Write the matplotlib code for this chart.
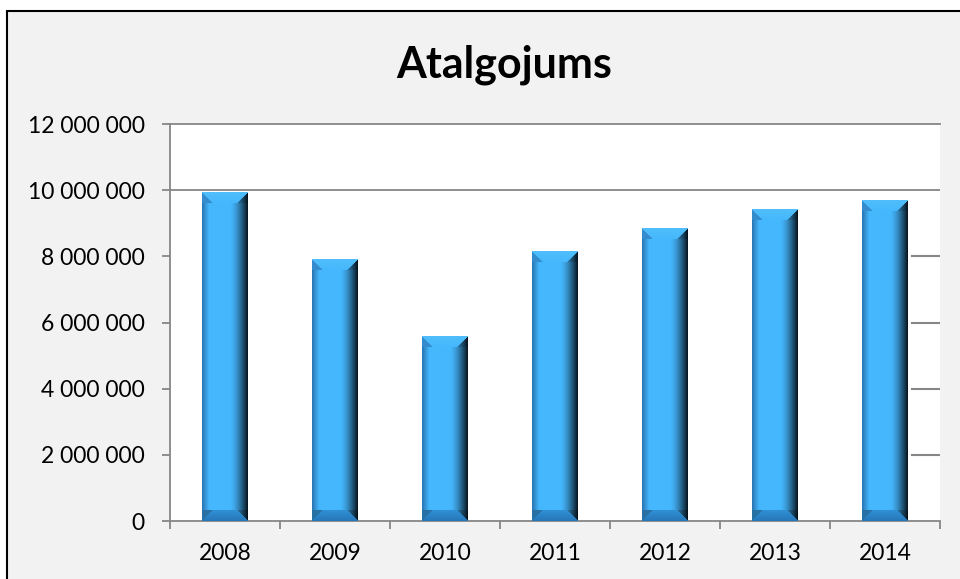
import numpy as np
import matplotlib
matplotlib.use('Agg')
import matplotlib.pyplot as plt
from matplotlib.patches import Rectangle

# data
years = ['2008', '2009', '2010', '2011', '2012', '2013', '2014']
values = [9940000, 7910000, 5590000, 8160000, 8850000, 9430000, 9690000]
y_ticks = [0, 2000000, 4000000, 6000000, 8000000, 10000000, 12000000]
title = 'Atalgojums'

plt.rcParams['font.family'] = ['Lato', 'DejaVu Sans']

grid_col = '#868686'
face = np.array([69, 183, 253]) / 255.0


def bevel_image(n_rows, n_cols=45, b=11):
    # horizontal shading of the bar body
    left = np.array([42, 120, 180]) / 255.0
    right = np.array([8, 24, 36]) / 255.0
    prof = np.zeros((n_cols, 3))
    for c in range(n_cols):
        t = c / (n_cols - 1)
        if t < 0.15:
            k = t / 0.15
            prof[c] = left * (1 - k) + face * k
        elif t > 0.62:
            k = ((t - 0.62) / 0.38) ** 1.5
            prof[c] = face * (1 - k) + right * k
        else:
            prof[c] = face
    img = np.tile(prof, (n_rows, 1, 1))
    top0 = np.array([80, 190, 250]) / 255.0
    bot0 = np.array([38, 120, 185]) / 255.0
    bot1 = np.array([50, 145, 215]) / 255.0
    lcorner = np.array([52, 140, 205]) / 255.0
    for r in range(min(b, n_rows // 2)):
        k = r / b
        for c in range(n_cols):
            rb = n_rows - 1 - r
            if r <= c <= n_cols - 1 - r:
                img[r, c] = top0 * (1 - k) + face * k
                img[rb, c] = bot0 * (1 - k) + bot1 * k
            elif c < r:
                img[r, c] = lcorner
                img[rb, c] = lcorner * 0.8
            else:
                img[r, c] = img[r, c] * 0.85
                img[rb, c] = img[rb, c] * 0.8
    return img


fig = plt.figure(figsize=(9.6, 5.79), dpi=100)
fig.patch.set_facecolor('white')
fig.patches.append(Rectangle((7 / 960, -0.1), 1.1, 1 - 11 / 579 + 0.1,
                             transform=fig.transFigure, facecolor='#f2f2f2',
                             edgecolor='black', linewidth=1.5, zorder=-10))

ax = fig.add_axes([170 / 960, 1 - 521 / 579, 770 / 960, 397 / 579])
ax.set_facecolor('white')

x = np.arange(len(years))
bars = ax.bar(x, values, width=0.41, color=face, zorder=2)

for bar in bars:
    h = bar.get_height()
    rows = max(int(round(h / 12000000 * 397)), 24)
    ax.imshow(bevel_image(rows), extent=(bar.get_x(), bar.get_x() + bar.get_width(), 0, h),
              aspect='auto', origin='upper', zorder=3, interpolation='bilinear')
ax.set_xlim(-0.5, len(years) - 0.5)
ax.set_ylim(0, 12000000)

# gridlines: full line at 10M, short stubs right of the last bar below it
ax.axhline(10000000, color=grid_col, lw=1.3, zorder=1)
last = bars[-1]
for v in y_ticks[1:-2]:
    ax.plot([last.get_x() + last.get_width() + 0.04, len(years) - 0.5], [v, v],
            color=grid_col, lw=1.5, zorder=1)

ax.spines['right'].set_visible(False)
for s in ['left', 'bottom', 'top']:
    ax.spines[s].set_color(grid_col)
    ax.spines[s].set_linewidth(1.3)

ax.set_yticks(y_ticks)
ax.set_yticklabels(['{:,}'.format(v).replace(',', ' ') for v in y_ticks])
ax.set_xticks(np.arange(-0.5, len(years), 1.0))
ax.set_xticklabels([])
ax.set_xticks(x, minor=True)
ax.set_xticklabels(years, minor=True)
ax.tick_params(axis='x', which='major', direction='out', length=6, width=1.3, color=grid_col)
ax.tick_params(axis='x', which='minor', length=0, pad=16, labelsize=16.5)
ax.tick_params(axis='y', direction='out', length=6, width=1.3, color=grid_col,
               pad=12, labelsize=16.5)

fig.text(504 / 960, 1 - 65 / 579, title, ha='center', va='center',
         fontsize=31, fontweight='bold')

fig.savefig('out.png', dpi=100, facecolor=fig.get_facecolor())
